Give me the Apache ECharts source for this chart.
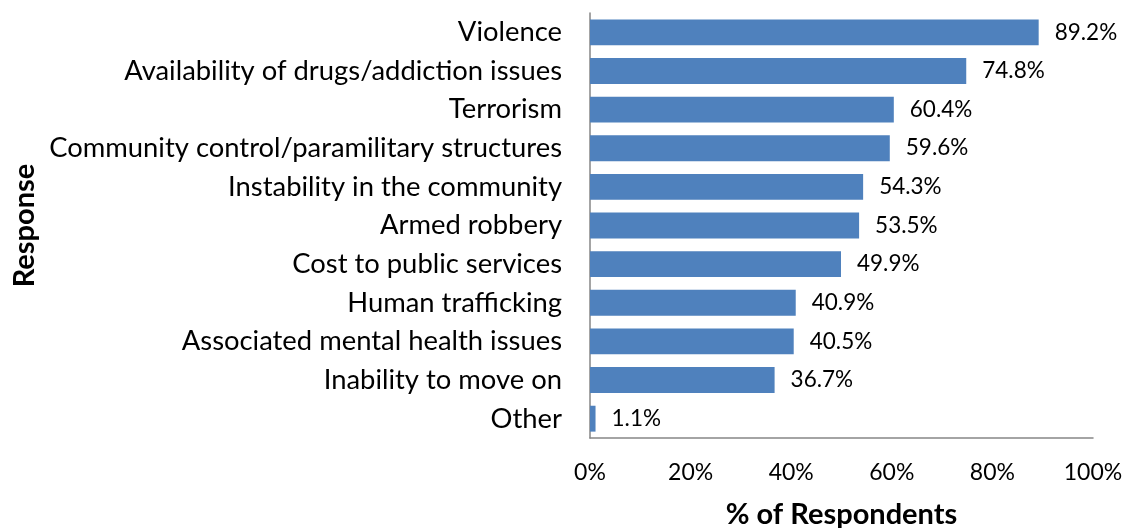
<!DOCTYPE html>
<html>
<head>
<meta charset="utf-8">
<script src="https://cdn.jsdelivr.net/npm/echarts@6/dist/echarts.min.js"></script>
<style>
  html, body { margin: 0; padding: 0; background: #fff; }
  #chart { width: 1126px; height: 528px; }
</style>
</head>
<body>
<div id="chart"></div>
<script>
// Reasons given, top to bottom
const categories = [
  'Violence',
  'Availability of drugs/addiction issues',
  'Terrorism',
  'Community control/paramilitary structures',
  'Instability in the community',
  'Armed robbery',
  'Cost to public services',
  'Human trafficking',
  'Associated mental health issues',
  'Inability to move on',
  'Other'
];
// Share of respondents (%)
const shares = [89.2, 74.8, 60.4, 59.6, 54.3, 53.5, 49.9, 40.9, 40.5, 36.7, 1.1];
// Percentage axis ticks
const axisMin = 0;
const axisMax = 100;
const axisStep = 20;

const FONT = 'Lato';
const chart = echarts.init(document.getElementById('chart'), null, { renderer: 'canvas' });

chart.setOption({
  animation: false,
  backgroundColor: '#ffffff',
  grid: {
    left: 590, right: 33, top: 13, bottom: 90,
    containLabel: false,
    outerBoundsMode: 'none'
  },
  xAxis: {
    type: 'value',
    min: axisMin,
    max: axisMax,
    interval: axisStep,
    name: '% of Respondents',
    nameLocation: 'middle',
    nameGap: 62,
    nameTextStyle: { fontFamily: FONT, fontSize: 29, fontWeight: 'bold', color: '#000' },
    axisLine: { show: true, lineStyle: { color: '#868686', width: 1.5 } },
    axisTick: { show: false },
    splitLine: { show: false },
    axisLabel: {
      formatter: '{value}%',
      margin: 23,
      fontFamily: FONT,
      fontSize: 23,
      color: '#000'
    }
  },
  yAxis: {
    type: 'category',
    inverse: true,
    data: categories,
    name: 'Response',
    nameLocation: 'middle',
    nameGap: 551,
    nameRotate: 90,
    nameTextStyle: { fontFamily: FONT, fontSize: 29, fontWeight: 'bold', color: '#000' },
    axisLine: { show: true, lineStyle: { color: '#868686', width: 1.5 } },
    axisTick: { show: false },
    axisLabel: {
      margin: 28,
      padding: [3, 0, 0, 0],
      fontFamily: FONT,
      fontSize: 27.4,
      color: '#000'
    }
  },
  series: [{
    type: 'bar',
    data: shares,
    barCategoryGap: '33%',
    itemStyle: { color: '#4F81BD' },
    label: {
      show: true,
      position: 'right',
      distance: 16,
      padding: [4, 0, 0, 0],
      formatter: p => p.value.toFixed(1) + '%',
      fontFamily: FONT,
      fontSize: 22.5,
      color: '#000'
    }
  }]
});
</script>
</body>
</html>
